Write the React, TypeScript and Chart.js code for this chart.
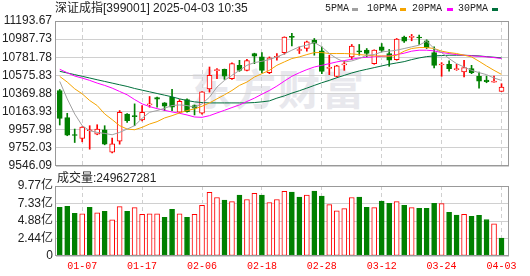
import React, { useEffect, useRef } from "react";
import { Chart, registerables } from "chart.js";

Chart.register(...registerables);

// ---------- data ----------
const dates = [
  "01-02", "01-03", "01-06", "01-07", "01-08", "01-09", "01-10", "01-13", "01-14", "01-15",
  "01-16", "01-17", "01-20", "01-21", "01-22", "01-23", "01-24", "01-27", "02-05", "02-06",
  "02-07", "02-10", "02-11", "02-12", "02-13", "02-14", "02-17", "02-18", "02-19", "02-20",
  "02-21", "02-24", "02-25", "02-26", "02-27", "02-28", "03-03", "03-04", "03-05", "03-06",
  "03-07", "03-10", "03-11", "03-12", "03-13", "03-14", "03-17", "03-18", "03-19", "03-20",
  "03-21", "03-24", "03-25", "03-26", "03-27", "03-28", "03-31", "04-01", "04-02", "04-03",
];

const openPrices = [
  10404, 10095, 9901, 9859, 9947, 9909, 9958, 9703, 9829, 10137,
  10115, 10069, 10240, 10324, 10263, 10328, 10157, 10301, 10233, 10145,
  10423, 10629, 10645, 10538, 10690, 10633, 10824, 10786, 10606, 10782,
  10835, 11016, 10858, 10881, 10976, 10854, 10656, 10564, 10694, 10786,
  10854, 10862, 10709, 10900, 10824, 10755, 11010, 11007, 11007, 10969,
  10835, 10694, 10702, 10641, 10614, 10652, 10565, 10523, 10500, 10393,
];
const highPrices = [
  10416, 10145, 9966, 9993, 10004, 10015, 10004, 9863, 10176, 10141,
  10252, 10233, 10336, 10328, 10267, 10416, 10301, 10309, 10240, 10393,
  10671, 10652, 10648, 10717, 10747, 10759, 10828, 10835, 10786, 10824,
  11014, 11053, 10900, 10965, 10995, 10900, 10805, 10690, 10736, 10927,
  10927, 10881, 10866, 10938, 10870, 10995, 11022, 11041, 11033, 10980,
  10900, 10721, 10740, 10702, 10747, 10690, 10614, 10568, 10568, 10481,
];
const lowPrices = [
  10012, 9890, 9813, 9821, 9737, 9901, 9787, 9695, 9794, 10042,
  10004, 10058, 10214, 10214, 10176, 10176, 10149, 10157, 10126, 10134,
  10385, 10538, 10530, 10530, 10622, 10626, 10709, 10606, 10595, 10748,
  10816, 10911, 10824, 10850, 10805, 10595, 10584, 10557, 10633, 10759,
  10805, 10786, 10702, 10843, 10679, 10748, 10950, 10969, 10927, 10881,
  10660, 10565, 10625, 10633, 10557, 10595, 10431, 10492, 10500, 10393,
];
const closePrices = [
  10088, 9897, 9893, 9989, 9955, 9966, 9794, 9797, 10156, 10061,
  10107, 10156, 10252, 10305, 10225, 10214, 10282, 10164, 10202, 10389,
  10576, 10637, 10568, 10709, 10633, 10744, 10793, 10633, 10774, 10789,
  11012, 11008, 10870, 10957, 10938, 10622, 10667, 10683, 10706, 10908,
  10843, 10824, 10862, 10858, 10748, 10988, 10965, 11014, 11000, 10892,
  10690, 10702, 10652, 10648, 10664, 10606, 10511, 10505, 10512, 10443,
];

const ma5 = [
  10507, 10309, 10137, 10004, 9947, 9928, 9916, 9901, 9928, 9966,
  10004, 10088, 10157, 10176, 10202, 10233, 10240, 10233, 10214, 10252,
  10328, 10443, 10519, 10576, 10633, 10690, 10721, 10736, 10755, 10786,
  10820, 10862, 10900, 10919, 10950, 10900, 10824, 10767, 10728, 10740,
  10767, 10805, 10812, 10843, 10851, 10862, 10881, 10900, 10919, 10965,
  10881, 10835, 10767, 10709, 10671, 10633, 10607, 10584, 10546, 10519,
];
const ma10 = [
  10564, 10500, 10423, 10366, 10290, 10233, 10138, 10073, 10004, 9966,
  9958, 9985, 10023, 10050, 10092, 10118, 10149, 10176, 10195, 10225,
  10263, 10309, 10355, 10404, 10462, 10500, 10557, 10595, 10633, 10690,
  10729, 10767, 10786, 10812, 10835, 10835, 10824, 10824, 10824, 10820,
  10812, 10805, 10797, 10797, 10793, 10805, 10851, 10881, 10892, 10892,
  10881, 10851, 10835, 10824, 10805, 10786, 10736, 10683, 10633, 10587,
];
const ma20 = [
  10645, 10606, 10568, 10545, 10519, 10488, 10462, 10431, 10393, 10355,
  10301, 10252, 10221, 10198, 10179, 10160, 10145, 10126, 10103, 10099,
  10118, 10149, 10179, 10210, 10240, 10279, 10317, 10362, 10404, 10454,
  10511, 10565, 10606, 10641, 10671, 10690, 10709, 10729, 10744, 10759,
  10774, 10782, 10786, 10793, 10797, 10812, 10828, 10851, 10862, 10862,
  10854, 10835, 10824, 10812, 10805, 10797, 10793, 10786, 10778, 10767,
];
const ma30 = [
  10622, 10603, 10584, 10565, 10546, 10526, 10507, 10488, 10469, 10450,
  10427, 10408, 10389, 10370, 10351, 10332, 10309, 10290, 10275, 10267,
  10263, 10263, 10263, 10263, 10263, 10263, 10267, 10275, 10286, 10317,
  10343, 10374, 10401, 10431, 10462, 10492, 10519, 10549, 10576, 10603,
  10626, 10645, 10664, 10683, 10702, 10717, 10732, 10755, 10774, 10789,
  10797, 10801, 10805, 10805, 10805, 10801, 10797, 10789, 10782, 10774,
];

// volume, in 亿
const volume = [
  6.80, 6.94, 5.95, 5.90, 6.80, 6.04, 6.23, 5.05, 6.89, 6.23,
  6.75, 5.81, 5.90, 5.90, 5.38, 6.51, 5.90, 5.38, 5.81, 7.08,
  8.87, 8.17, 7.79, 7.60, 8.50, 7.88, 8.73, 8.50, 7.46, 7.88,
  9.02, 8.92, 8.21, 8.50, 9.06, 8.35, 7.17, 6.32, 6.61, 8.17,
  8.21, 6.80, 6.75, 7.65, 7.36, 7.60, 7.08, 6.75, 6.66, 6.66,
  7.36, 7.32, 6.09, 5.71, 5.81, 5.52, 5.66, 5.10, 4.48, 2.496,
];
// 1 = rose vs previous close (red), 0 = fell (green)
const volumeUp = [
  0, 0, 0, 1, 0, 1, 0, 1, 1, 0,
  1, 1, 1, 1, 0, 0, 1, 0, 1, 1,
  1, 1, 0, 1, 0, 1, 1, 0, 1, 1,
  1, 0, 0, 1, 0, 0, 1, 1, 1, 1,
  0, 0, 1, 0, 0, 1, 0, 1, 0, 0,
  0, 1, 0, 0, 1, 0, 0, 0, 1, 0,
];

const priceTickLabels = [
  "11193.67", "10987.73", "10781.78", "10575.83", "10369.88",
  "10163.93", "9957.98", "9752.03", "9546.09",
];
const volumeTickLabels = ["0", "2.44亿", "4.88亿", "7.33亿", "9.77亿"];
const volumeMax = 9.77;
const dateTickLabels = ["01-07", "01-17", "02-06", "02-18", "02-28", "03-12", "03-24", "04-03"];

const titleText = "深证成指[399001] 2025-04-03 10:35";
const volumeText = "成交量:249627281";
const legendItems = ["5PMA", "10PMA", "20PMA", "30PMA"];

// ---------- style ----------
const W = 530;
const H = 276;
const RED = "#ff0000";
const GREEN = "#008000";
const MA_COLORS = ["#a0a0a0", "#f5a400", "#ff00ff", "#00703c"];
const GRID = "#d0d0d0";
const FRAME = "#999999";
const LABEL = "#222222";
const SANS = "'Liberation Sans', 'Noto Sans CJK SC', sans-serif";
const MONO = "'Liberation Mono', 'DejaVu Sans Mono', monospace";

const framePlugin = {
  id: "frame",
  afterDraw(chart: any) {
    const { ctx, chartArea: a } = chart;
    ctx.save();
    ctx.strokeStyle = FRAME;
    ctx.lineWidth = 1;
    ctx.strokeRect(a.left - 0.5, a.top + 0.5, a.right - a.left, a.bottom - a.top - 1);
    ctx.restore();
  },
};

function xScale(showLabels: boolean, tickIdx: number[]) {
  return {
    type: "linear",
    min: -0.5,
    max: dates.length,
    offset: false,
    grid: { color: GRID, lineWidth: 1, offset: false, drawTicks: false },
    border: { display: false, dash: [4, 3] },
    afterBuildTicks: (s: any) => {
      s.ticks = tickIdx.map((v) => ({ value: v }));
    },
    afterFit: (s: any) => {
      s.height = showLabels ? 20 : 0;
    },
    ticks: {
      display: showLabels,
      autoSkip: false,
      maxRotation: 0,
      minRotation: 0,
      padding: 4,
      color: RED,
      font: { family: MONO, size: 10 },
      callback: (v: any) => dates[Math.round(Number(v))] ?? "",
    },
  };
}

export default function App() {
  const mainRef = useRef<HTMLCanvasElement>(null);
  const volRef = useRef<HTMLCanvasElement>(null);

  useEffect(() => {
    const idx = dates.map((_, i) => i);
    const tickIdx = dateTickLabels.map((d) => dates.indexOf(d));
    const priceTicks = priceTickLabels.map(Number);
    const pMin = Math.min(...priceTicks);
    const pMax = Math.max(...priceTicks);
    const up = idx.map((i) => closePrices[i] >= openPrices[i]);
    const volTicks = volumeTickLabels.map((_, k) => (k * volumeMax) / (volumeTickLabels.length - 1));
    const mas = [ma5, ma10, ma20, ma30];

    const main = new Chart(mainRef.current as HTMLCanvasElement, {
      type: "bar",
      data: {
        datasets: [
          ...mas.map((m, k) => ({
            type: "line" as const,
            label: legendItems[k],
            data: idx.map((i) => ({ x: i, y: m[i] })),
            borderColor: MA_COLORS[k],
            borderWidth: 1,
            pointRadius: 0,
            tension: 0,
            fill: false,
            order: 0,
          })),
          {
            type: "bar" as const,
            label: "body",
            data: idx.map((i) => ({
              x: i,
              y: [Math.min(openPrices[i], closePrices[i]), Math.max(openPrices[i], closePrices[i])],
            })),
            backgroundColor: idx.map((i) => (up[i] ? "#ffffff" : GREEN)),
            borderColor: idx.map((i) => (up[i] ? RED : GREEN)),
            borderWidth: 1,
            borderSkipped: false,
            barThickness: 5,
            minBarLength: 1,
            grouped: false,
            order: 1,
          },
          {
            type: "bar" as const,
            label: "wick",
            data: idx.map((i) => ({ x: i, y: [lowPrices[i], highPrices[i]] })),
            backgroundColor: idx.map((i) => (up[i] ? RED : GREEN)),
            borderWidth: 0,
            barThickness: 1,
            grouped: false,
            order: 2,
          },
        ] as any,
      },
      options: {
        responsive: false,
        animation: false,
        devicePixelRatio: 1,
        events: [],
        layout: { padding: { left: 0, right: 21, top: 21, bottom: 110 } },
        plugins: { legend: { display: false }, tooltip: { enabled: false } },
        scales: {
          x: xScale(false, tickIdx) as any,
          y: {
            type: "linear",
            min: pMin,
            max: pMax,
            grid: { color: GRID, lineWidth: 1, drawTicks: false },
            border: { display: false },
            afterBuildTicks: (s: any) => {
              s.ticks = priceTicks.map((v) => ({ value: v }));
            },
            afterFit: (s: any) => {
              s.width = 56;
            },
            ticks: {
              padding: 4,
              color: LABEL,
              font: { family: SANS, size: 12 },
              callback: (v: any) =>
                priceTickLabels.find((l) => Math.abs(Number(l) - Number(v)) < 0.001) ?? "",
            },
          },
        },
      },
      plugins: [framePlugin],
    });

    const vol = new Chart(volRef.current as HTMLCanvasElement, {
      type: "bar",
      data: {
        datasets: [
          {
            label: "volume",
            data: idx.map((i) => ({ x: i, y: volume[i] })),
            backgroundColor: idx.map((i) => (volumeUp[i] ? "#ffffff" : GREEN)),
            borderColor: idx.map((i) => (volumeUp[i] ? RED : GREEN)),
            borderWidth: 1,
            borderSkipped: false,
            barThickness: 5,
            grouped: false,
          },
        ] as any,
      },
      options: {
        responsive: false,
        animation: false,
        devicePixelRatio: 1,
        events: [],
        layout: { padding: { left: 0, right: 21, top: 186, bottom: 0 } },
        plugins: { legend: { display: false }, tooltip: { enabled: false } },
        scales: {
          x: xScale(true, tickIdx) as any,
          y: {
            type: "linear",
            min: 0,
            max: volumeMax,
            grid: { color: GRID, lineWidth: 1, drawTicks: false },
            border: { display: false },
            afterBuildTicks: (s: any) => {
              s.ticks = volTicks.map((v) => ({ value: v }));
            },
            afterFit: (s: any) => {
              s.width = 56;
            },
            ticks: {
              padding: 3,
              color: LABEL,
              font: { family: SANS, size: 12 },
              callback: (v: any) => {
                const k = volTicks.findIndex((t) => Math.abs(t - Number(v)) < 1e-6);
                return k >= 0 ? volumeTickLabels[k] : "";
              },
            },
          },
        },
      },
      plugins: [framePlugin],
    });

    return () => {
      main.destroy();
      vol.destroy();
    };
  }, []);

  const legendPos = [
    { text: 325, mark: 352 },
    { text: 367, mark: 400 },
    { text: 412, mark: 447 },
    { text: 458, mark: 492 },
  ];

  return (
    <div style={{ position: "absolute", left: 0, top: 0, width: W, height: H, background: "#ffffff", overflow: "hidden" }}>
      <div
        style={{
          position: "absolute",
          left: 190,
          top: 62,
          fontFamily: "'Noto Sans CJK SC', sans-serif",
          fontWeight: 700,
          fontSize: 42,
          lineHeight: "50px",
          color: "#e8e8ed",
          whiteSpace: "nowrap",
          letterSpacing: 2,
        }}
      >
        东方财富
      </div>
      <canvas ref={mainRef} width={W} height={H} style={{ position: "absolute", left: 0, top: 0, width: W, height: H }} />
      <canvas ref={volRef} width={W} height={H} style={{ position: "absolute", left: 0, top: 0, width: W, height: H }} />
      <div
        style={{
          position: "absolute",
          left: 55,
          top: 2,
          fontFamily: SANS,
          fontSize: 12,
          lineHeight: "12px",
          color: LABEL,
          whiteSpace: "nowrap",
        }}
      >
        {titleText}
      </div>
      {legendItems.map((t, k) => (
        <React.Fragment key={t}>
          <div
            style={{
              position: "absolute",
              left: legendPos[k].text,
              top: 4,
              fontFamily: MONO,
              fontSize: 10,
              lineHeight: "10px",
              color: LABEL,
              whiteSpace: "nowrap",
            }}
          >
            {t}
          </div>
          <div
            style={{
              position: "absolute",
              left: legendPos[k].mark,
              top: 8,
              width: 6,
              height: 3,
              background: MA_COLORS[k],
            }}
          />
        </React.Fragment>
      ))}
      <div
        style={{
          position: "absolute",
          left: 57,
          top: 172,
          fontFamily: SANS,
          fontSize: 12,
          lineHeight: "12px",
          color: LABEL,
          whiteSpace: "nowrap",
        }}
      >
        {volumeText}
      </div>
    </div>
  );
}
